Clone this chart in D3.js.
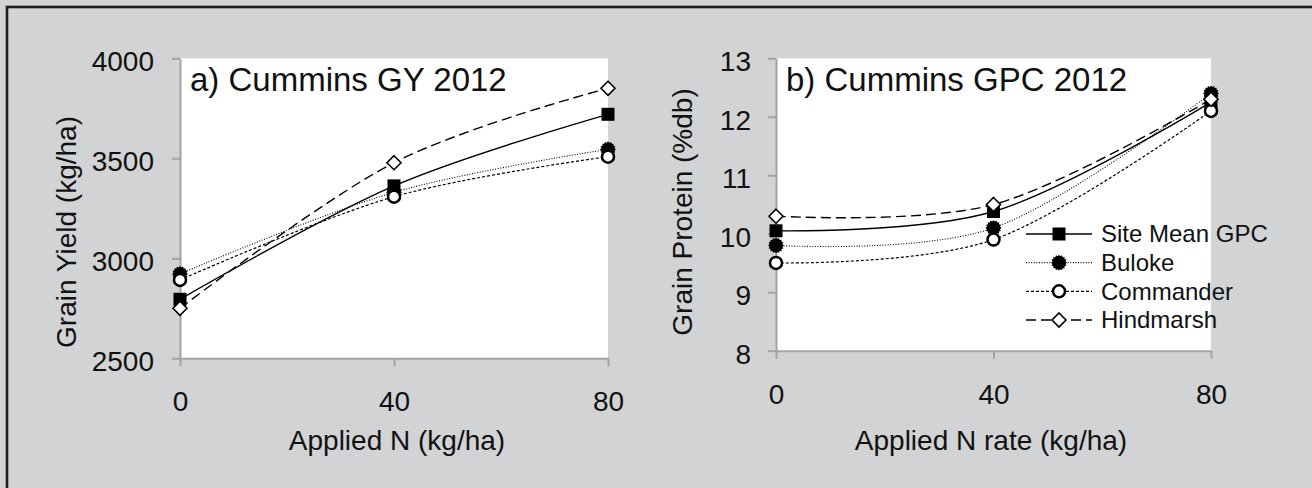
<!DOCTYPE html>
<html><head><meta charset="utf-8">
<script src="https://cdn.jsdelivr.net/npm/d3@7"></script>
<style>
html,body{margin:0;padding:0;background:#d1d3d4;}
svg{display:block;}
text{font-family:"Liberation Sans",Arial,sans-serif;fill:#111;}
</style></head><body>
<svg id="c" width="1312" height="488"></svg>
<script>
// ---- data ----
const nRates = [0, 40, 80];
const seriesNames = ["Site Mean GPC", "Buloke", "Commander", "Hindmarsh"];
// panel a) grain yield (kg/ha)
const gySiteMean = [2795, 3362, 3720];
const gyBuloke   = [2922, 3330, 3545];
const gyCommander= [2892, 3308, 3508];
const gyHindmarsh= [2750, 3478, 3850];
// panel b) grain protein (%db)
const gpcSiteMean = [10.05, 10.38, 12.25];
const gpcBuloke   = [9.8, 10.1, 12.4];
const gpcCommander= [9.5, 9.9, 12.1];
const gpcHindmarsh= [10.3, 10.5, 12.3];
const gyTicks = [2500, 3000, 3500, 4000];
const gpcTicks = [8, 9, 10, 11, 12, 13];
const xTicks = [0, 40, 80];

const svg = d3.select("#c");
// outer frame (top/left edges visible)
svg.append("rect").attr("x",7).attr("y",7).attr("width",1400).attr("height",600)
  .attr("fill","#d1d3d4").attr("stroke","#231f20").attr("stroke-width",2.6);

const styles = {
  "Site Mean GPC": {dash:null, w:1.4, marker:"square"},
  "Buloke": {dash:"1,1.6", w:1.1, marker:"spiky"},
  "Commander": {dash:"3,2", w:1.2, marker:"circle"},
  "Hindmarsh": {dash:"10,5", w:1.4, marker:"diamond"}
};

function marker(g, type, x, y){
  if(type==="square"){
    g.append("rect").attr("x",x-6.5).attr("y",y-6.5).attr("width",13).attr("height",13).attr("fill","#000");
  } else if(type==="spiky"){
    const pts=[]; const n=16;
    for(let i=0;i<n*2;i++){const r = i%2===0?8:6.6; const a=Math.PI*i/n; pts.push([x+r*Math.cos(a), y+r*Math.sin(a)]);}
    g.append("path").attr("d", d3.line()(pts)+"Z").attr("fill","#000");
  } else if(type==="circle"){
    g.append("circle").attr("cx",x).attr("cy",y).attr("r",6).attr("fill","#fff").attr("stroke","#000").attr("stroke-width",2.5);
  } else if(type==="diamond"){
    g.append("path").attr("d",`M${x},${y-7}L${x+7},${y}L${x},${y+7}L${x-7},${y}Z`)
      .attr("fill","#fff").attr("stroke","#000").attr("stroke-width",1.6);
  }
}

function panel(opt){
  const {x0,x1,y0,y1,domainY,ticksY,series,title,ytitle,xtitle,ytitleX,ytitleY,xtitleX,tickPadY} = opt;
  const x = d3.scaleLinear().domain([0,80]).range([x0,x1]);
  const y = d3.scaleLinear().domain(domainY).range([y1,y0]);
  const g = svg.append("g");
  g.append("rect").attr("x",x0).attr("y",y0).attr("width",x1-x0).attr("height",y1-y0).attr("fill","#fff");
  // axes
  const ax = g.append("g").attr("transform",`translate(0,${y1})`)
    .call(d3.axisBottom(x).tickValues(xTicks).tickFormat(d3.format("d")).tickSize(8).tickSizeOuter(0).tickPadding(25));
  const ay = g.append("g").attr("transform",`translate(${x0},0)`)
    .call(d3.axisLeft(y).tickValues(ticksY).tickFormat(d3.format("d")).tickSize(8).tickSizeOuter(0).tickPadding(tickPadY));
  [ax,ay].forEach(a=>{
    a.select(".domain").attr("stroke","#a3a3a3").attr("stroke-width",2);
    a.selectAll(".tick line").attr("stroke","#a3a3a3").attr("stroke-width",2);
    a.selectAll(".tick text").attr("font-size",28).attr("font-family","Liberation Sans, Arial, sans-serif").attr("fill","#111");
  });
  ay.selectAll(".tick text").attr("dy","0.44em");
  // lines
  const line = d3.line().x(d=>x(d[0])).y(d=>y(d[1])).curve(d3.curveCatmullRom.alpha(0));
  series.forEach(s=>{
    const st = styles[s.name];
    const pts = nRates.map((n,i)=>[n,s.values[i]]);
    g.append("path").attr("d",line(pts)).attr("fill","none").attr("stroke","#000")
      .attr("stroke-width",st.w).attr("stroke-dasharray",st.dash);
  });
  series.forEach(s=>{
    const st = styles[s.name];
    nRates.forEach((n,i)=>marker(g, st.marker, x(n), y(s.values[i])));
  });
  g.append("text").attr("x",x0+10).attr("y",91).attr("font-size",33).text(title);
  g.append("text").attr("transform",`translate(${ytitleX},${ytitleY}) rotate(-90)`)
    .attr("text-anchor","middle").attr("font-size",28).text(ytitle);
  g.append("text").attr("x",xtitleX).attr("y",450).attr("text-anchor","middle").attr("font-size",28).text(xtitle);
  return {x,y,g};
}

panel({x0:180,x1:608,y0:58.3,y1:358.3,domainY:[2500,4000],ticksY:gyTicks,tickPadY:18,
  series:[{name:"Site Mean GPC",values:gySiteMean},{name:"Buloke",values:gyBuloke},{name:"Commander",values:gyCommander},{name:"Hindmarsh",values:gyHindmarsh}],
  title:"a) Cummins GY 2012", ytitle:"Grain Yield (kg/ha)", xtitle:"Applied N (kg/ha)",
  ytitleX:76, ytitleY:232, xtitleX:397});

panel({x0:776,x1:1211,y0:58.3,y1:350.7,domainY:[8,13],ticksY:gpcTicks,tickPadY:17,
  series:[{name:"Site Mean GPC",values:gpcSiteMean},{name:"Buloke",values:gpcBuloke},{name:"Commander",values:gpcCommander},{name:"Hindmarsh",values:gpcHindmarsh}],
  title:"b) Cummins GPC 2012", ytitle:"Grain Protein (%db)", xtitle:"Applied N rate (kg/ha)",
  ytitleX:692, ytitleY:212, xtitleX:991});

// legend
const legY = d3.scalePoint().domain(seriesNames).range([234,320]);
const lg = svg.append("g");
seriesNames.forEach(name=>{
  const st = styles[name]; const yy = legY(name);
  lg.append("line").attr("x1",1026).attr("x2",1092).attr("y1",yy).attr("y2",yy)
    .attr("stroke","#000").attr("stroke-width",st.w).attr("stroke-dasharray",st.dash);
  marker(lg, st.marker, 1059, yy);
  lg.append("text").attr("x",1101).attr("y",yy).attr("dy","0.35em").attr("font-size",24).text(name);
});
</script>
</body></html>
